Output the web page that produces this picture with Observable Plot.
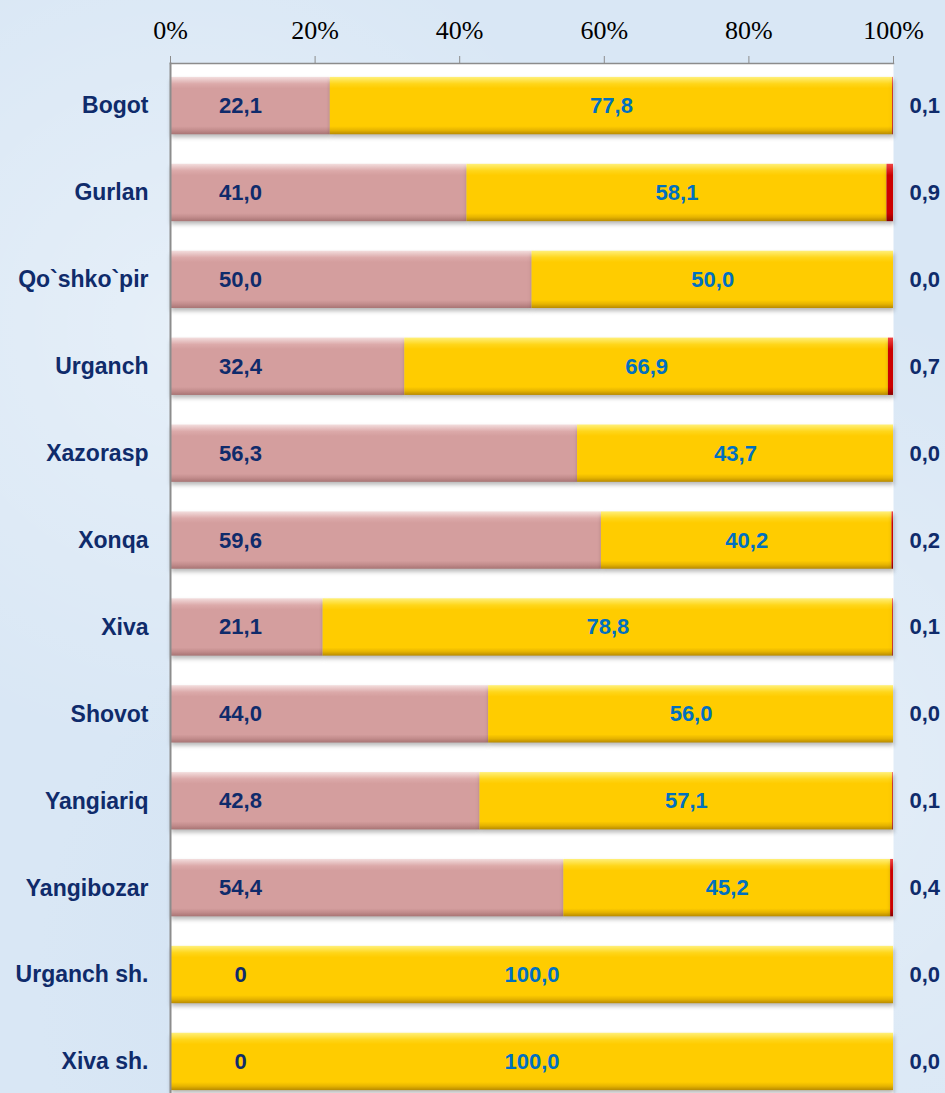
<!DOCTYPE html>
<html>
<head>
<meta charset="utf-8">
<script src="https://cdn.jsdelivr.net/npm/d3@7"></script>
<script src="https://cdn.jsdelivr.net/npm/@observablehq/plot@0.6"></script>
<style>
  html, body { margin: 0; padding: 0; }
  body {
    width: 945px; height: 1093px; overflow: hidden;
    background-color: #d9e7f5;
    background-image:
      radial-gradient(circle at 20% 30%, rgba(255,255,255,0.35) 0, rgba(255,255,255,0) 40%),
      radial-gradient(circle at 80% 70%, rgba(255,255,255,0.3) 0, rgba(255,255,255,0) 45%),
      radial-gradient(circle at 50% 90%, rgba(190,210,235,0.3) 0, rgba(190,210,235,0) 40%);
  }
  #chart svg { display: block; background: transparent; }
</style>
</head>
<body>
<div id="chart"></div>
<script>
const categories = ["Bogot", "Gurlan", "Qo`shko`pir", "Urganch", "Xazorasp", "Xonqa", "Xiva", "Shovot", "Yangiariq", "Yangibozar", "Urganch sh.", "Xiva sh."];
const share1 = [22.1, 41.0, 50.0, 32.4, 56.3, 59.6, 21.1, 44.0, 42.8, 54.4, 0, 0];
const share2 = [77.8, 58.1, 50.0, 66.9, 43.7, 40.2, 78.8, 56.0, 57.1, 45.2, 100.0, 100.0];
const share3 = [0.1, 0.9, 0.0, 0.7, 0.0, 0.2, 0.1, 0.0, 0.1, 0.4, 0.0, 0.0];
const xTicks = [0, 20, 40, 60, 80, 100];

const rows = categories.map((c, i) => ({
  cat: c,
  a: share1[i],
  b: share2[i],
  c: share3[i]
}));

const fmt = v => v.toFixed(1).replace(".", ",");
const navy = "#0f2b6b";
const blue = "#0070c0";
const sans = "'Liberation Sans', Arial, sans-serif";

const chart = Plot.plot({
  width: 945,
  height: 1093,
  marginLeft: 170,
  marginRight: 52,
  marginTop: 63,
  marginBottom: 0,
  style: { background: "transparent", fontFamily: sans, overflow: "hidden" },
  x: { domain: [0, 100], axis: null },
  y: { domain: categories, range: [63, 1104], paddingInner: 0.34, paddingOuter: 0.16, round: false, axis: null },
  marks: [
    Plot.frame({ fill: "white", stroke: "none" }),
    Plot.barX(rows, { y: "cat", x1: 0, x2: d => d.a, fill: "url(#g-pink)" }),
    Plot.barX(rows, { y: "cat", x1: d => d.a, x2: d => d.a + d.b, fill: "url(#g-yellow)" }),
    Plot.barX(rows, { y: "cat", x1: d => d.a + d.b, x2: d => d.a + d.b + d.c, fill: "url(#g-red)" }),
    Plot.frame({ anchor: "top", stroke: "#8c8c8c", strokeWidth: 1.5 }),
    Plot.frame({ anchor: "left", stroke: "#8c8c8c", strokeWidth: 2 }),
    Plot.axisX({
      anchor: "top", ticks: xTicks, tickSize: 8, tickPadding: 17,
      tickFormat: d => d + "%", stroke: "#8c8c8c", fill: "black",
      fontSize: 26, fontFamily: "'Liberation Serif', 'Times New Roman', serif", label: null
    }),
    Plot.axisY({
      anchor: "left", tickSize: 0, tickPadding: 22, fontSize: 23, fontWeight: "bold",
      fill: navy, fontFamily: sans, label: null
    }),
    Plot.text(rows, {
      y: "cat", x: 0, dx: 70, text: d => d.a === 0 ? "0" : fmt(d.a),
      fill: navy, fontWeight: "bold", fontSize: 22, fontFamily: sans, textAnchor: "middle"
    }),
    Plot.text(rows, {
      y: "cat", x: d => d.a + d.b / 2, text: d => fmt(d.b),
      fill: blue, fontWeight: "bold", fontSize: 22, fontFamily: sans, textAnchor: "middle"
    }),
    Plot.text(rows, {
      y: "cat", x: 100, dx: 16, text: d => fmt(d.c),
      fill: navy, fontWeight: "bold", fontSize: 22, fontFamily: sans, textAnchor: "start"
    })
  ]
});

// gradient definitions for the bevelled bar look
const svg = d3.select(chart);
const defs = svg.insert("defs", ":first-child");
function grad(id, stops) {
  const g = defs.append("linearGradient").attr("id", id)
    .attr("x1", 0).attr("y1", 0).attr("x2", 0).attr("y2", 1);
  stops.forEach(([o, c]) => g.append("stop").attr("offset", o).attr("stop-color", c));
}
grad("g-pink", [[0, "#f3dede"], [0.12, "#dcaaaa"], [0.2, "#d49e9e"], [0.86, "#d49e9e"], [0.93, "#c28c8c"], [1, "#a87474"]]);
grad("g-yellow", [[0, "#fff07a"], [0.12, "#ffd61a"], [0.2, "#ffcc00"], [0.86, "#ffcc00"], [0.93, "#e6b400"], [1, "#b88a00"]]);
grad("g-red", [[0, "#ee4444"], [0.2, "#cc0000"], [0.86, "#cc0000"], [1, "#8a0000"]]);
svg.selectAll('g[aria-label="bar"]').style("filter", "drop-shadow(1px 3px 2px rgba(0,0,0,0.28))");

document.getElementById("chart").appendChild(chart);
</script>
</body>
</html>
